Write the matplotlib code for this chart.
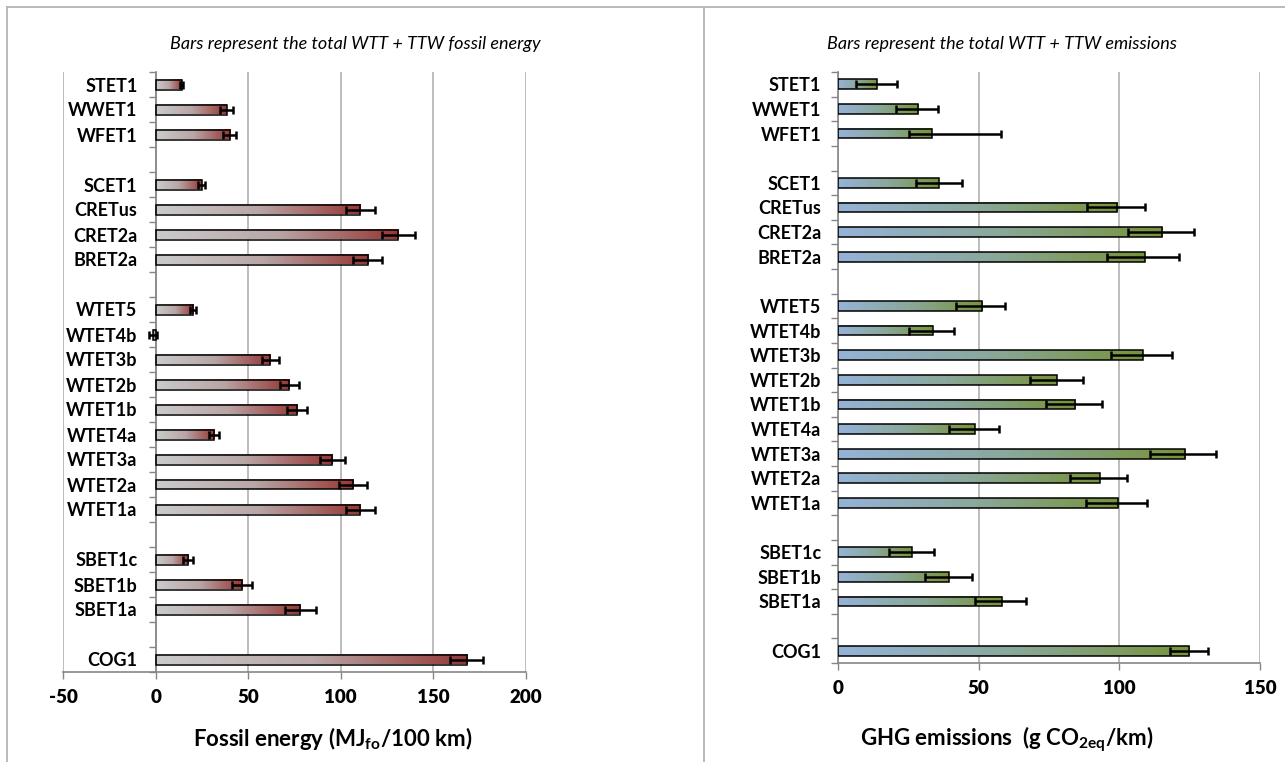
#
# WTT + TTW fossil energy and GHG emissions, horizontal bar charts
#
import numpy as np
import matplotlib
matplotlib.use('Agg')
import matplotlib.pyplot as plt
from matplotlib.colors import LinearSegmentedColormap
from matplotlib.lines import Line2D

plt.rcParams['font.family'] = ['Lato', 'DejaVu Sans']
plt.rcParams['font.weight'] = 'bold'
plt.rcParams['xtick.labelsize'] = 13
plt.rcParams['ytick.labelsize'] = 13
plt.rcParams['mathtext.fontset'] = 'custom'
plt.rcParams['mathtext.rm'] = 'Lato:bold'
plt.rcParams['mathtext.bf'] = 'Lato:bold'
plt.rcParams['mathtext.default'] = 'bf'

nan = np.nan

# Categories, top to bottom ('' = empty spacer slot)
categories = ['STET1', 'WWET1', 'WFET1', '',
              'SCET1', 'CRETus', 'CRET2a', 'BRET2a', '',
              'WTET5', 'WTET4b', 'WTET3b', 'WTET2b', 'WTET1b', 'WTET4a', 'WTET3a', 'WTET2a', 'WTET1a', '',
              'SBET1c', 'SBET1b', 'SBET1a', '',
              'COG1']

# Fossil energy (MJ/100 km) and its error
fossil = [14, 38.3, 40, nan,
          24.8, 110.6, 131.1, 114.6, nan,
          20.3, -1.5, 62, 72.3, 76.4, 31.7, 95.5, 106.8, 110.6, nan,
          17.6, 46.8, 78.2, nan,
          168]
fossil_err = [1, 3.4, 3.5, nan,
              2, 7.8, 9, 7.8, nan,
              1.5, 2, 4.5, 5.2, 5.6, 2.7, 6.7, 7.6, 7.8, nan,
              2.6, 5.3, 8.2, nan,
              9]

# GHG emissions (g CO2eq/km) with lower / upper error bounds
ghg = [13.7, 28.5, 33.4, nan,
       35.9, 99.2, 115.3, 109.1, nan,
       51.2, 33.7, 108.3, 77.8, 84.3, 48.6, 123.5, 93, 99.6, nan,
       26.2, 39.3, 58.2, nan,
       124.8]
ghg_low = [6.3, 20.7, 25.2, nan,
           27.6, 88.4, 103.2, 95.7, nan,
           42, 25.3, 97.1, 68.4, 74, 39.5, 110.9, 82.3, 88, nan,
           18.3, 30.8, 48.7, nan,
           118]
ghg_high = [21, 35.7, 58, nan,
            44.1, 109, 126.4, 121.3, nan,
            59.4, 41.3, 118.6, 87.2, 93.7, 57.2, 134.3, 102.9, 110, nan,
            34.1, 47.5, 66.7, nan,
            131.4]

W, H = 1285, 762
GRAY = '#868686'
GRID = '#b0b0b0'
FRAME = '#b4b4b4'

fossil_cmap = LinearSegmentedColormap.from_list('fossil', ['#cbcbcb', '#b9a6a6', '#953735'])
ghg_cmap = LinearSegmentedColormap.from_list('ghg', ['#95b3d7', '#8aa89a', '#77933c'])
grad = np.linspace(0, 1, 256).reshape(1, -1)


def draw_panel(ax, values, lo, hi, cmap, xlim, xticks, label_pad):
    ypos = np.arange(len(categories))
    bh = 0.4
    for y, v in zip(ypos, values):
        if np.isnan(v):
            continue
        ax.imshow(grad, extent=[0, v, y + bh / 2, y - bh / 2], cmap=cmap,
                  aspect='auto', interpolation='bilinear', zorder=2)
        ax.barh(y, v, height=bh, facecolor='none', edgecolor='black', linewidth=1.1, zorder=3)
    vals = np.array(values, dtype=float)
    err = np.array([vals - np.array(lo, dtype=float), np.array(hi, dtype=float) - vals])
    ax.errorbar(vals, ypos, xerr=err, fmt='none', ecolor='black', elinewidth=1.8,
                capsize=3.2, capthick=1.8, zorder=4)

    ax.set_xlim(*xlim)
    ax.set_ylim(len(categories) - 0.5, -0.5)
    ax.set_xticks(xticks)
    ax.set_xticklabels([str(t) for t in xticks], fontsize=13.5, fontweight='heavy')
    ax.set_yticks(ypos)
    ax.set_yticklabels(categories)
    ax.set_yticks(np.arange(len(categories) + 1) - 0.5, minor=True)
    ax.tick_params(axis='y', which='major', length=0, pad=label_pad)
    ax.tick_params(axis='y', which='minor', length=5, color=GRAY, width=1)
    ax.tick_params(axis='x', length=5, color=GRAY, width=1, pad=7)
    for lbl in ax.get_xticklabels():
        lbl.set_fontweight('heavy')
        lbl.set_fontsize(13.5)

    ax.grid(axis='x', color=GRID, linewidth=1.2, zorder=0)
    ax.set_axisbelow(True)
    for s in ['top', 'right']:
        ax.spines[s].set_visible(False)
    ax.spines['left'].set_position(('data', 0))
    ax.spines['left'].set_color(GRAY)
    ax.spines['bottom'].set_color(GRAY)
    ax.spines['left'].set_linewidth(1.2)
    ax.spines['bottom'].set_linewidth(1.2)


fig = plt.figure(figsize=(W / 100, H / 100), dpi=100)

# panel frames
for xs, ys in [([7, 7], [0, 7]), ([704, 704], [0, 7]), ([7, W], [7, 7])]:
    fig.add_artist(Line2D([x / W for x in xs], [1 - y / H if y == 7 else -0.01 for y in ys],
                          transform=fig.transFigure, color=FRAME, linewidth=1.3))

ax1 = fig.add_axes([63 / W, 1 - 672 / H, (526 - 63) / W, 600 / H])
ax1.patch.set_alpha(0)
draw_panel(ax1, fossil, np.array(fossil) - np.array(fossil_err), np.array(fossil) + np.array(fossil_err),
           fossil_cmap, (-50, 200), [-50, 0, 50, 100, 150, 200], 13)

ax2 = fig.add_axes([838 / W, 1 - 663 / H, (1260 - 838) / W, 591 / H])
ax2.patch.set_alpha(0)
draw_panel(ax2, ghg, ghg_low, ghg_high, ghg_cmap, (0, 150), [0, 50, 100, 150], 12)

# titles
fig.text(355 / W, 1 - 44 / H, 'Bars represent the total WTT + TTW fossil energy',
         ha='center', va='center', fontsize=13, style='italic', fontweight='normal')
fig.text(1002 / W, 1 - 44 / H, 'Bars represent the total WTT + TTW emissions',
         ha='center', va='center', fontsize=13, style='italic', fontweight='normal')

# axis titles
fig.text(333 / W, 1 - 739 / H, r'Fossil energy (MJ$_{fo}$/100 km)',
         ha='center', va='center', fontsize=16, fontweight='bold')
fig.text(1007 / W, 1 - 739 / H, r'GHG emissions  (g CO$_{2eq}$/km)',
         ha='center', va='center', fontsize=16, fontweight='bold')

fig.savefig('out.png', dpi=100)
